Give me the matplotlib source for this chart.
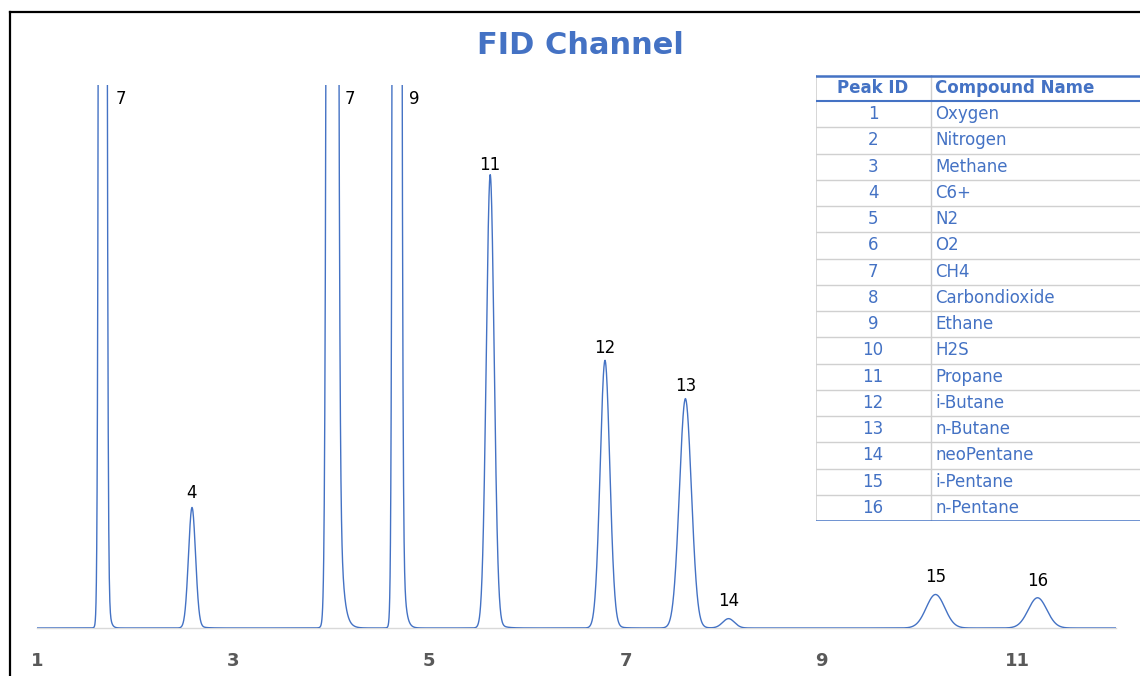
import numpy as np
import matplotlib
matplotlib.use("Agg")
import matplotlib.pyplot as plt
from matplotlib.lines import Line2D

# Peaks (retention time in min, height in % of full scale)
peak_labels = ["7", "4", "7", "9", "11", "12", "13", "14", "15", "16"]
peak_rt = [1.67, 2.58, 4.01, 4.67, 5.62, 6.79, 7.61, 8.05, 10.16, 11.20]
peak_height = [1500, 21.7, 1500, 1500, 82.0, 48.3, 41.4, 1.7, 6.1, 5.5]
peak_sigma = [0.020, 0.036, 0.028, 0.022, 0.040, 0.049, 0.061, 0.060, 0.095, 0.095]
tail_amp = [160, 1.0, 220, 170, 3.0, 2.0, 1.7, 0.05, 0.15, 0.15]
tail_tau = [0.018, 0.06, 0.035, 0.025, 0.06, 0.06, 0.06, 0.05, 0.06, 0.06]

x_ticks = [1, 3, 5, 7, 9, 11]

peak_ids = [str(i) for i in range(1, 17)]
compound_names = ["Oxygen", "Nitrogen", "Methane", "C6+", "N2", "O2", "CH4",
                  "Carbondioxide", "Ethane", "H2S", "Propane", "i-Butane",
                  "n-Butane", "neoPentane", "i-Pentane", "n-Pentane"]

BLUE = "#4472C4"
W, H = 1140, 676

# build the trace from the peak table
t = np.linspace(1, 12, 6000)
signal = np.zeros_like(t)
for rt, h, s, a, tau in zip(peak_rt, peak_height, peak_sigma, tail_amp, tail_tau):
    d = t - rt
    signal += h * np.exp(-0.5 * (d / s) ** 2)
    step = 1 / (1 + np.exp(-np.clip(d / s * 1.7, -50, 50)))
    signal += a * np.exp(-np.clip(d, 0, None) / tau) * step

fig = plt.figure(figsize=(W / 100, H / 100), dpi=100)
ax = fig.add_axes([37 / W, 1 - 628 / H, (1116 - 37) / W, (628 - 85) / H])
ax.plot(t, signal, color=BLUE, lw=1.0, zorder=3)
ax.set_xlim(1, 12)
ax.set_ylim(0, 100)
ax.set_yticks([])
ax.set_xticks(x_ticks)
ax.set_xticklabels([str(v) for v in x_ticks], fontsize=13, fontweight="bold", color="#595959")
ax.tick_params(axis="x", length=0, pad=17)
for side in ["left", "top", "right"]:
    ax.spines[side].set_visible(False)
ax.spines["bottom"].set_color("#d9d9d9")
ax.spines["bottom"].set_linewidth(1.0)

top = ax.get_ylim()[1]
for lab, rt, h in zip(peak_labels, peak_rt, peak_height):
    if h >= top:
        ax.annotate(lab, (rt, top), xytext=(9, -10), textcoords="offset points",
                    ha="left", va="center", fontsize=12, color="black")
    else:
        ax.annotate(lab, (rt, h), xytext=(0, 9), textcoords="offset points",
                    ha="center", va="baseline", fontsize=12, color="black")

fig.text(580 / W, 1 - 45 / H, "FID Channel", ha="center", va="center",
         fontsize=22, fontweight="bold", color=BLUE)

# peak table drawn in pixel coordinates
tb = fig.add_axes([816 / W, 1 - 521 / H, (W - 816) / W, (521 - 75) / H])
tb.set_xlim(816, W)
tb.set_ylim(521, 75)
tb.axis("off")
row_h = (521 - 101) / len(peak_ids)
for i in range(1, len(peak_ids)):
    y = 101 + i * row_h
    tb.plot([816, W], [y, y], color="#d0d0d0", lw=1)
tb.plot([816, 816], [75, 521], color="#d0d0d0", lw=1.2)
tb.plot([931, 931], [75, 521], color="#d0d0d0", lw=1)
tb.plot([816, W], [75.5, 75.5], color=BLUE, lw=1.8)
tb.plot([816, W], [101, 101], color=BLUE, lw=1.5)
tb.plot([816, W], [520.5, 520.5], color=BLUE, lw=1.8)
tb.text(873, 88, "Peak ID", ha="center", va="center", fontsize=12, fontweight="bold", color=BLUE)
tb.text(935, 88, "Compound Name", ha="left", va="center", fontsize=12, fontweight="bold", color=BLUE)
for i, (pid, name) in enumerate(zip(peak_ids, compound_names)):
    y = 101 + (i + 0.5) * row_h
    tb.text(873, y, pid, ha="center", va="center", fontsize=12, color=BLUE)
    tb.text(935, y, name, ha="left", va="center", fontsize=12, color=BLUE)

# black frame on left and top edge
fig.add_artist(Line2D([10 / W, 10 / W], [0, 1 - 12 / H], color="black", lw=1.6))
fig.add_artist(Line2D([10 / W, 1], [1 - 12 / H, 1 - 12 / H], color="black", lw=1.6))

fig.savefig("out.png", dpi=100)
